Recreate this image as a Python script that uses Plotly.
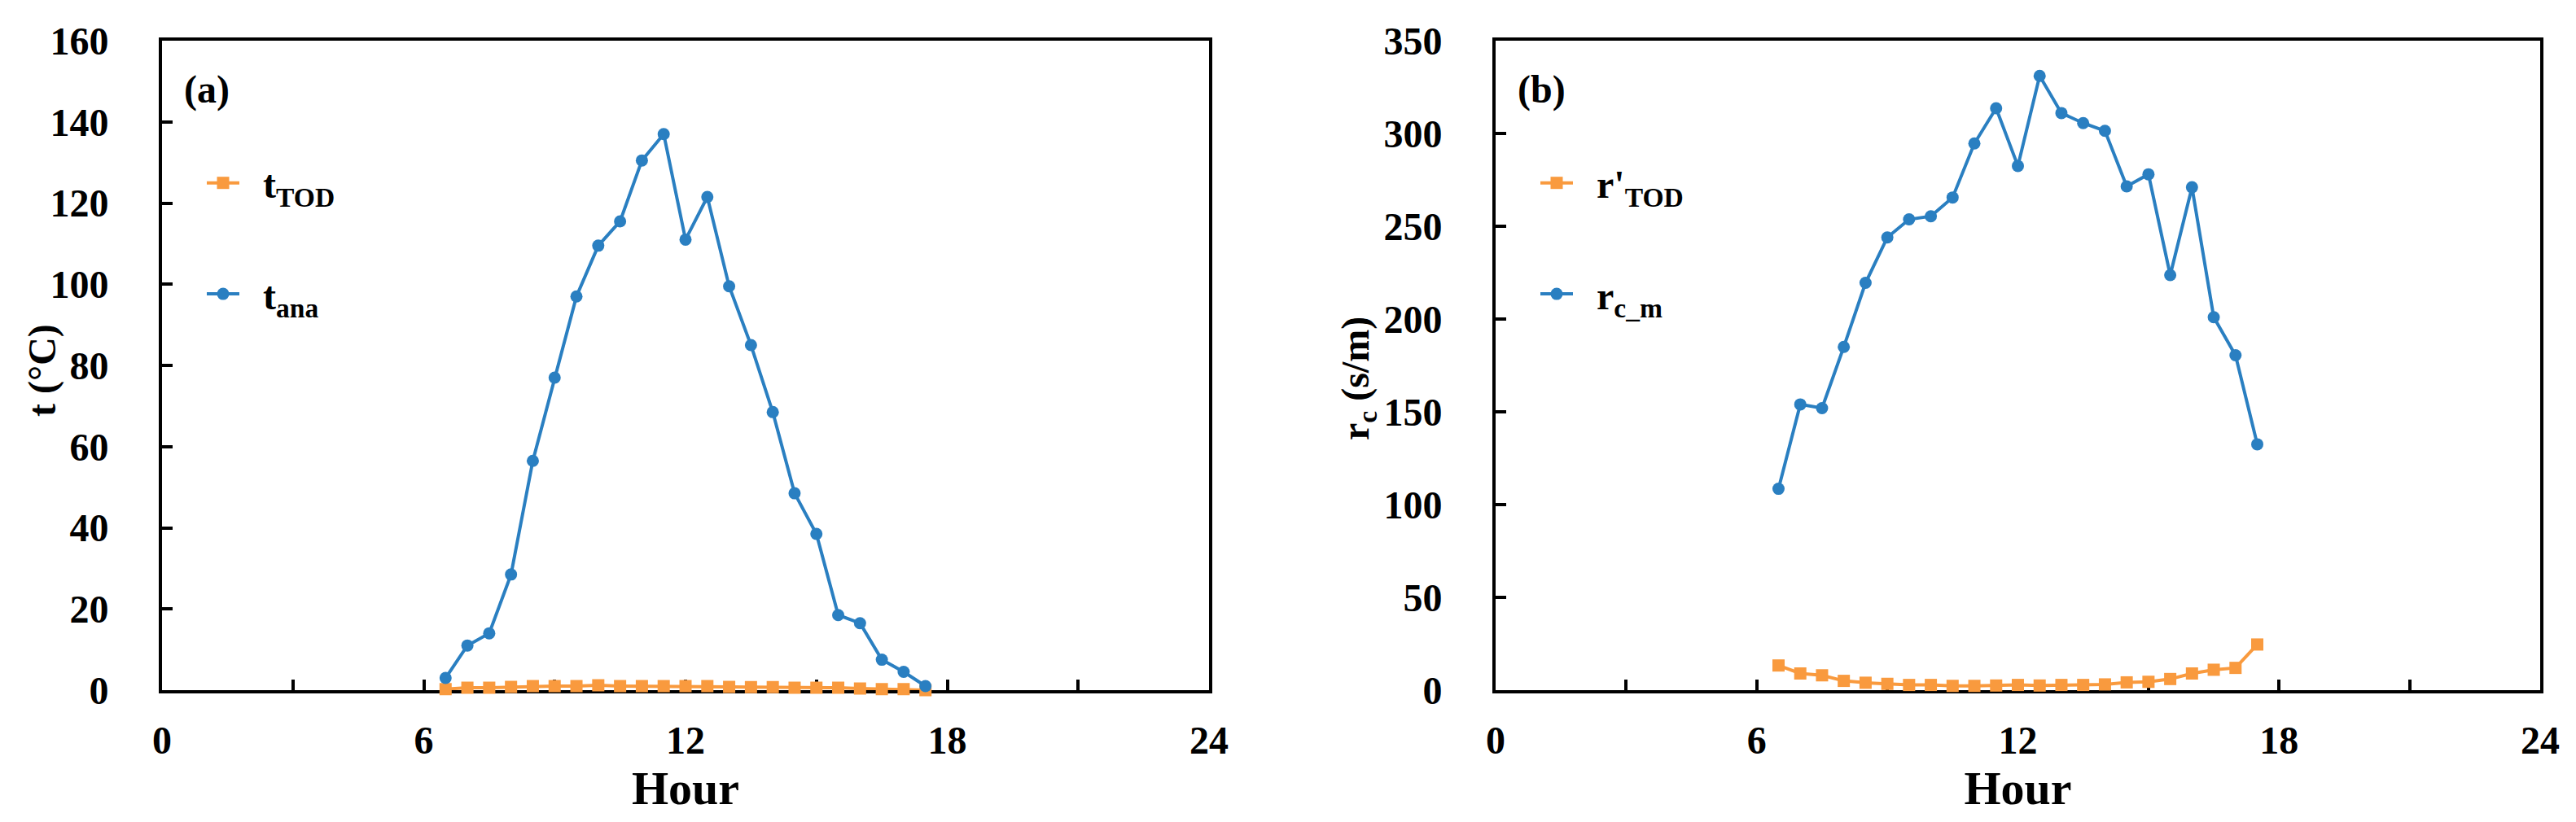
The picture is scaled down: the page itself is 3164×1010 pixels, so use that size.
import plotly.graph_objects as go

# hours of the day (half-hourly, 6:30 - 17:30)
hours = [6.5, 7, 7.5, 8, 8.5, 9, 9.5, 10, 10.5, 11, 11.5, 12,
         12.5, 13, 13.5, 14, 14.5, 15, 15.5, 16, 16.5, 17, 17.5]

# panel (a): temperature
t_tod = [0.25, 0.6, 0.6, 0.8, 1.0, 1.0, 1.0, 1.2, 1.0, 1.0, 1.0, 1.0,
         1.0, 0.8, 0.75, 0.75, 0.6, 0.6, 0.6, 0.4, 0.25, 0.25, 0.0]
t_ana = [3, 11, 14, 28.5, 56.5, 77, 97, 109.5, 115.5, 130.5, 137, 111,
         121.5, 99.5, 85, 68.5, 48.5, 38.5, 18.5, 16.5, 7.5, 4.5, 1]

# panel (b): canopy resistance
r_tod = [13.3, 9, 8, 5, 4, 3.4, 2.8, 2.8, 2.3, 2.3, 2.5, 2.8,
         2.5, 2.8, 2.8, 3.1, 4.2, 4.5, 6, 9, 11, 12, 24.6]
r_cm = [108.5, 154, 152, 185, 219.5, 244, 253.7, 255.4, 265.5, 294.6, 313.6, 282.5,
        331, 311, 305.6, 301.4, 271.5, 278, 223.7, 271, 201, 180.5, 132.5]

x_ticks = [0, 6, 12, 18, 24]

orange = "#F99A3E"
blue = "#2A7FC1"
W, H = 3164, 1010
gap = "\u00a0\u00a0"  # space between legend symbol and text

fig = go.Figure()

def add_pair(xa, ya, leg, y1, n1, y2, n2):
    fig.add_trace(go.Scatter(x=hours, y=y1, name=gap + n1, mode="lines+markers",
                             line=dict(color=orange, width=4),
                             marker=dict(symbol="square", size=15, color=orange),
                             xaxis=xa, yaxis=ya, legend=leg, legendgroup=leg + "a",
                             cliponaxis=False))
    fig.add_trace(go.Scatter(x=hours, y=y2, name=gap + n2, mode="lines+markers",
                             line=dict(color=blue, width=4),
                             marker=dict(symbol="circle", size=15, color=blue),
                             xaxis=xa, yaxis=ya, legend=leg, legendgroup=leg + "b",
                             cliponaxis=False))

add_pair("x", "y", "legend", t_tod, "t<sub>TOD</sub>", t_ana, "t<sub>ana</sub>")
add_pair("x2", "y2", "legend2", r_tod, "r'<sub>TOD</sub>", r_cm, "r<sub>c_m</sub>")

left = [199 / W, 1485 / W]
right = [1837 / W, 3120 / W]
ydom = [1 - 848 / H, 1 - 50 / H]

def xaxis(dom, anchor):
    return dict(domain=dom, anchor=anchor, range=[0, 24], tickvals=x_ticks,
                showline=True, linewidth=4, linecolor="black", mirror=True,
                ticks="inside", ticklen=13, tickwidth=4, tickcolor="black",
                minor=dict(dtick=3, ticks="inside", ticklen=13, tickwidth=4, tickcolor="black"),
                showgrid=False, zeroline=False, layer="below traces",
                automargin=False, ticklabelstandoff=16,
                title=dict(text="Hour", standoff=4))

def yaxis(rng, dt, anchor):
    return dict(domain=ydom, anchor=anchor, range=rng, dtick=dt,
                showline=True, linewidth=4, linecolor="black", mirror=True,
                ticks="inside", ticklen=13, tickwidth=4, tickcolor="black",
                showgrid=False, zeroline=False, layer="below traces",
                automargin=False, ticklabelstandoff=52)

leg_style = dict(bgcolor="rgba(0,0,0,0)", tracegroupgap=71, itemwidth=40,
                 xanchor="left", yanchor="top", font=dict(size=48))

def note(text, x, y, angle=0):
    return dict(text=text, x=x / W, y=1 - y / H, xref="paper", yref="paper",
                xanchor="center", yanchor="middle", showarrow=False, textangle=angle)

fig.update_layout(
    width=W, height=H,
    margin=dict(l=0, r=0, t=0, b=0),
    paper_bgcolor="white", plot_bgcolor="white",
    font=dict(family="Liberation Serif", size=48, color="black", weight="bold"),
    xaxis=xaxis(left, "y"),
    yaxis=yaxis([0, 160], 20, "x"),
    xaxis2=xaxis(right, "y2"),
    yaxis2=yaxis([0, 350], 50, "x2"),
    legend=dict(x=left[0] + 50 / W, y=1 - 187 / H, **leg_style),
    legend2=dict(x=right[0] + 50 / W, y=1 - 187 / H, **leg_style),
    annotations=[
        note("(a)", 254, 110),
        note("(b)", 1893, 110),
        note("t (°C)", 52, 455, -90),
        note("r<sub>c</sub> (s/m)", 1668, 465, -90),
    ],
)

fig.write_html("out.html", config={"displayModeBar": False},
               post_script="document.body.style.margin='0px';")
